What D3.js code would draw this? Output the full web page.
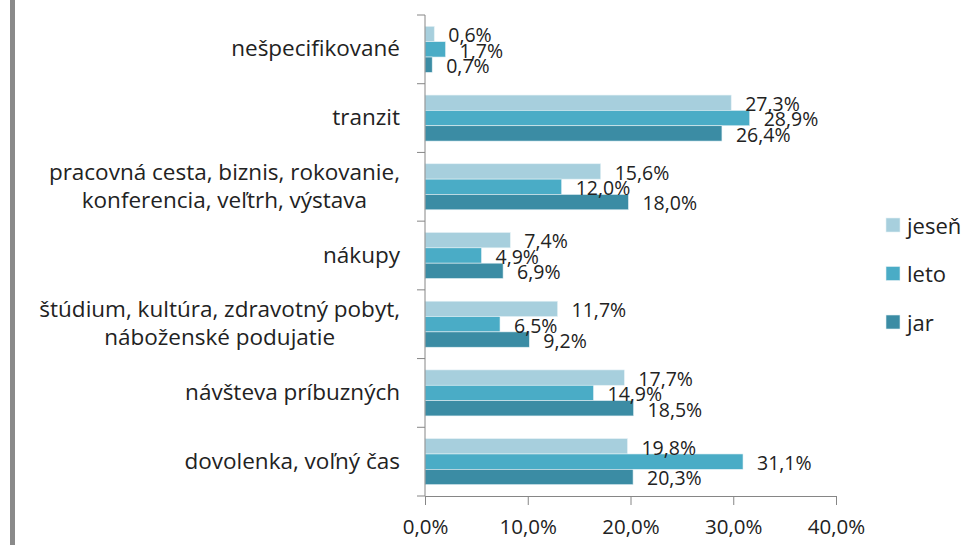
<!DOCTYPE html>
<html>
<head>
<meta charset="utf-8">
<script src="https://cdn.jsdelivr.net/npm/d3@7"></script>
<style>
  body { margin: 0; background: #fff; }
  svg { display: block; font-family: "Open Sans", "DejaVu Sans", sans-serif; }
</style>
</head>
<body>
<svg id="chart" width="969" height="545"></svg>
<script>
// categories, top to bottom
const categories = [
  ["nešpecifikované"],
  ["tranzit"],
  ["pracovná cesta, biznis, rokovanie,", "konferencia, veľtrh, výstava"],
  ["nákupy"],
  ["štúdium, kultúra, zdravotný pobyt,", "náboženské podujatie"],
  ["návšteva príbuzných"],
  ["dovolenka, voľný čas"]
];

const seriesNames = ["jeseň", "leto", "jar"];
const seriesColors = ["#a7cfdd", "#4aacc6", "#3b8ca4"];

// printed values (data labels)
const jesen = [0.6, 27.3, 15.6, 7.4, 11.7, 17.7, 19.8];
const leto  = [1.7, 28.9, 12.0, 4.9, 6.5, 14.9, 31.1];
const jar   = [0.7, 26.4, 18.0, 6.9, 9.2, 18.5, 20.3];

// bar lengths as drawn in the picture, read against the x axis
const jesenBars = [0.9, 29.8, 17.1, 8.3, 12.9, 19.4, 19.7];
const letoBars  = [2.0, 31.6, 13.3, 5.5, 7.3, 16.4, 30.95];
const jarBars   = [0.7, 28.9, 19.8, 7.6, 10.15, 20.3, 20.25];

const xTicks = [0, 10, 20, 30, 40];

const labels = [jesen, leto, jar];
const bars = [jesenBars, letoBars, jarBars];

const svg = d3.select("#chart");
const axisColor = "#868686";
const textColor = "#222";

// left gray border
svg.append("rect")
  .attr("x", 10).attr("y", 0)
  .attr("width", 5).attr("height", 545)
  .attr("fill", "#8a8a8a");

const x = d3.scaleLinear().domain([0, 40]).range([425, 836]);
const y = d3.scaleBand().domain(d3.range(categories.length)).range([15, 496]);
const ySub = d3.scaleBand().domain(d3.range(seriesNames.length))
  .range([0, y.bandwidth()]).paddingInner(0).paddingOuter(0.74);

// bars
const rows = svg.append("g").selectAll("g")
  .data(categories)
  .enter().append("g")
  .attr("transform", (d, i) => "translate(0," + y(i) + ")");

rows.each(function(d, i) {
  const g = d3.select(this);
  seriesNames.forEach((s, k) => {
    g.append("rect")
      .attr("x", x(0))
      .attr("y", ySub(k))
      .attr("width", x(bars[k][i]) - x(0))
      .attr("height", ySub.bandwidth())
      .attr("fill", seriesColors[k])
      .attr("stroke", "#e4f1f5")
      .attr("stroke-width", 0.6);
  });
  seriesNames.forEach((s, k) => {
    g.append("text")
      .attr("x", x(bars[k][i]) + 14)
      .attr("y", ySub(k) + ySub.bandwidth() / 2 + 1.5)
      .attr("dy", "0.35em")
      .style("font-size", "19.5px")
      .style("fill", textColor)
      .text(labels[k][i].toFixed(1).replace(".", ",") + "%");
  });
});

// x axis
const xAxis = d3.axisBottom(x)
  .tickValues(xTicks)
  .tickSize(9)
  .tickSizeOuter(0)
  .tickPadding(14)
  .tickFormat(d => d.toFixed(1).replace(".", ",") + "%");

const gx = svg.append("g")
  .attr("transform", "translate(0,496)")
  .call(xAxis);
gx.select(".domain").attr("stroke", axisColor);
gx.selectAll(".tick line").attr("stroke", axisColor);
gx.selectAll(".tick text")
  .style("font-size", "20.5px")
  .style("font-family", "Open Sans")
  .attr("fill", textColor);

// y axis line and category boundary ticks
const gy = svg.append("g");
gy.append("line")
  .attr("x1", x(0)).attr("x2", x(0))
  .attr("y1", y.range()[0]).attr("y2", y.range()[1])
  .attr("stroke", axisColor);
const bounds = d3.range(categories.length + 1).map(i => y.range()[0] + i * y.step());
gy.selectAll(".bt")
  .data(bounds)
  .enter().append("line")
  .attr("x1", x(0) - 8).attr("x2", x(0))
  .attr("y1", d => d).attr("y2", d => d)
  .attr("stroke", axisColor);

// category labels: right-aligned block, lines centered within block
const lineH = 28;
categories.forEach((lines, i) => {
  const t = gy.append("text")
    .style("font-size", "22.5px")
    .attr("fill", textColor)
    .attr("text-anchor", "middle");
  const tspans = lines.map((ln, j) =>
    t.append("tspan").text(ln)
  );
  const widths = tspans.map(ts => ts.node().getComputedTextLength());
  const maxW = d3.max(widths);
  const cx = 400 - maxW / 2;
  const cy = y(i) + y.bandwidth() / 2 + 7 - (lines.length - 1) * lineH / 2;
  tspans.forEach((ts, j) => ts.attr("x", cx).attr("y", cy + j * lineH));
});

// legend
const legend = svg.append("g").attr("transform", "translate(886,218)");
seriesNames.forEach((s, k) => {
  const lg = legend.append("g").attr("transform", "translate(0," + k * 48.5 + ")");
  lg.append("rect")
    .attr("width", 14).attr("height", 14)
    .attr("fill", seriesColors[k])
    .attr("stroke", "#e4f1f5").attr("stroke-width", 0.6);
  lg.append("text")
    .attr("x", 21).attr("y", 8)
    .attr("dy", "0.35em")
    .style("font-size", "22px")
    .attr("fill", textColor)
    .text(s);
});
</script>
</body>
</html>
